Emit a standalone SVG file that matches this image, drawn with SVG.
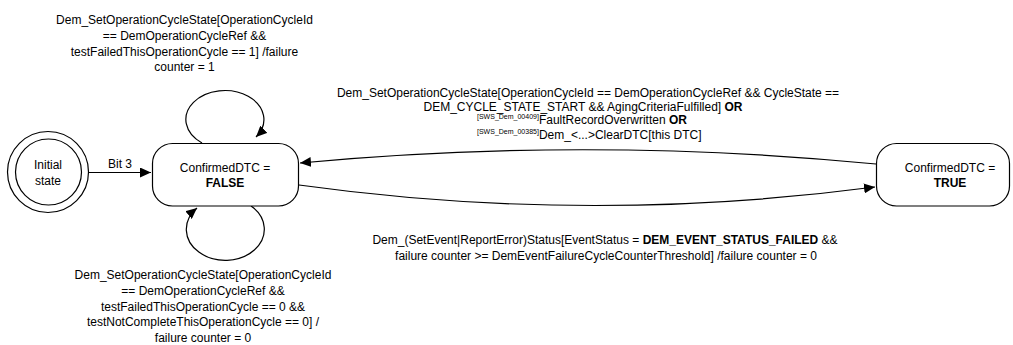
<svg xmlns="http://www.w3.org/2000/svg" width="1013" height="345" viewBox="0 0 1013 345">
<style>
.t{font-family:"Liberation Sans",Arial,sans-serif;font-size:12px;fill:#000}
.m{text-anchor:middle}
.b{font-weight:bold}
.sup{font-size:7px}
.node{fill:#fff;stroke:#000;stroke-width:1.2}
.edge{fill:none;stroke:#000;stroke-width:1.2}
</style>
<defs>
<marker id="arr" markerUnits="userSpaceOnUse" markerWidth="12" markerHeight="10" refX="11" refY="5" orient="auto">
<path d="M0,0 L11,5 L0,10 Z" fill="#000"/>
</marker>
</defs>
<rect width="1013" height="345" fill="#fff"/>
<g id="connectors">
<path class="edge" d="M89,172.5 L151,172.5" marker-end="url(#arr)"/>
<path class="edge" d="M202,143 A39 29 0 1 1 256,137" marker-end="url(#arr)"/>
<path class="edge" d="M251,206 A39 31 0 1 1 197,208" marker-end="url(#arr)"/>
<path class="edge" d="M876,164 Q588,136 300,163" marker-end="url(#arr)"/>
<path class="edge" d="M299,185 Q588,225 875,187" marker-end="url(#arr)"/>
</g>
<g id="node-initial">
<circle class="node" cx="48" cy="172" r="40.5"/>
<circle class="node" cx="48.5" cy="172" r="33"/>
<text class="t m" x="48" y="169">Initial</text>
<text class="t m" x="48" y="185">state</text>
</g>
<g id="node-false">
<rect class="node" x="152.5" y="143.5" width="146" height="62.5" rx="20" ry="20"/>
<text class="t m" x="225" y="171.5">ConfirmedDTC =</text>
<text class="t m b" x="225" y="187">FALSE</text>
</g>
<g id="node-true">
<rect class="node" x="876.5" y="143.5" width="133" height="62.5" rx="20" ry="20"/>
<text class="t m" x="950" y="171.5">ConfirmedDTC =</text>
<text class="t m b" x="950" y="187">TRUE</text>
</g>
<g id="labels">
<text class="t m" x="120" y="168">Bit 3</text>
<text class="t m" x="184.5" y="24">Dem_SetOperationCycleState[OperationCycleId</text>
<text class="t m" x="184.5" y="39.5">== DemOperationCycleRef &amp;&amp;</text>
<text class="t m" x="184.5" y="55.5">testFailedThisOperationCycle == 1] /failure</text>
<text class="t m" x="184.5" y="71">counter = 1</text>
<text class="t m" x="203" y="279">Dem_SetOperationCycleState[OperationCycleId</text>
<text class="t m" x="203" y="295">== DemOperationCycleRef &amp;&amp;</text>
<text class="t m" x="203" y="311">testFailedThisOperationCycle == 0 &amp;&amp;</text>
<text class="t m" x="203" y="326">testNotCompleteThisOperationCycle == 0] /</text>
<text class="t m" x="203" y="342">failure counter = 0</text>
<text class="t m" x="588" y="97">Dem_SetOperationCycleState[OperationCycleId == DemOperationCycleRef &amp;&amp; CycleState ==</text>
<text class="t m" x="583" y="111">DEM_CYCLE_STATE_START &amp;&amp; AgingCriteriaFulfilled] <tspan class="b">OR</tspan></text>
<text class="t" x="477" y="124"><tspan class="sup" dy="-5">[SWS_Dem_00409]</tspan><tspan dy="5">FaultRecordOverwritten </tspan><tspan class="b">OR</tspan></text>
<text class="t" x="477" y="139"><tspan class="sup" dy="-5">[SWS_Dem_00385]</tspan><tspan dy="5">Dem_&lt;...&gt;ClearDTC[this DTC]</tspan></text>
<text class="t m" x="605" y="244">Dem_(SetEvent|ReportError)Status[EventStatus = <tspan class="b">DEM_EVENT_STATUS_FAILED</tspan> &amp;&amp;</text>
<text class="t m" x="606" y="260">failure counter &gt;= DemEventFailureCycleCounterThreshold] /failure counter = 0</text>
</g>
</svg>
